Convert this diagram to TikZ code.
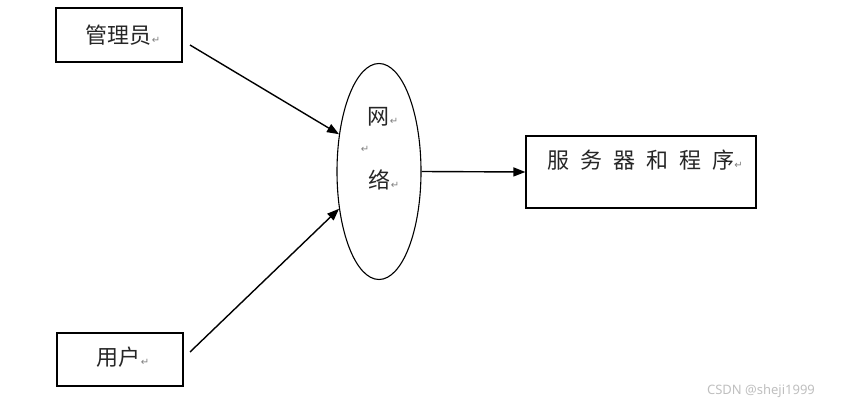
\documentclass[tikz,border=0pt]{standalone}
\usepackage{fontspec}
\setmainfont{Liberation Serif}
\newfontfamily\cjk{Noto Sans CJK SC}
\newfontfamily\symf{DejaVu Sans}
\newfontfamily\wmf{Noto Sans}
\usetikzlibrary{arrows.meta,shapes.geometric}
\newcommand{\retmark}{{\symf\fontsize{10}{10}\selectfont\color{gray}↵}}
\tikzset{
  box/.style={draw=black, line width=1.2pt, inner sep=0pt},
  cjktext/.style={font=\cjk\fontsize{22}{22}\selectfont, text=black!85, inner sep=0pt, anchor=center},
  conn/.style={line width=1.4pt, -{Triangle[length=12pt,width=9pt]}},
}
\begin{document}
\begin{tikzpicture}[x=1pt,y=-1pt]
\useasboundingbox (0,0) rectangle (841,406);
% nodes
\node[box, minimum width=126pt, minimum height=54pt] (adm) at (119,35) {};
\node[box, minimum width=126pt, minimum height=53pt] (usr) at (120,359.5) {};
\node[draw=black, line width=1.1pt, ellipse, inner sep=0pt, minimum width=84pt, minimum height=216pt] (net) at (379,171.5) {};
\node[box, minimum width=230pt, minimum height=72pt] (srv) at (641,172) {};
% texts
\node[cjktext] (admt) at (123,35) {管理员\retmark};
\node[cjktext] (usrt) at (123,357) {用户\retmark};
\node[cjktext] (net1) at (383,117) {网\retmark};
\node[cjktext] (netr) at (365,149) {\retmark};
\node[cjktext] (net2) at (384,180) {络\retmark};
\node[cjktext] (srvt) at (645,160) {服\hspace{11pt}务\hspace{11pt}器\hspace{11pt}和\hspace{11pt}程\hspace{11pt}序\retmark};
% free ends of connectors
\coordinate (s1) at (190,45);
\coordinate (s2) at (190,352);
% connectors
\draw[conn] (s1) -- (net.137);
\draw[conn] (s2) -- (net.223);
\draw[conn] (net.east) -- (srv.west);
% watermark
\node[font=\wmf\fontsize{13}{13}\selectfont, text=black!25, inner sep=0pt] (wm) at (761,391) {CSDN @sheji1999};
\end{tikzpicture}
\end{document}
